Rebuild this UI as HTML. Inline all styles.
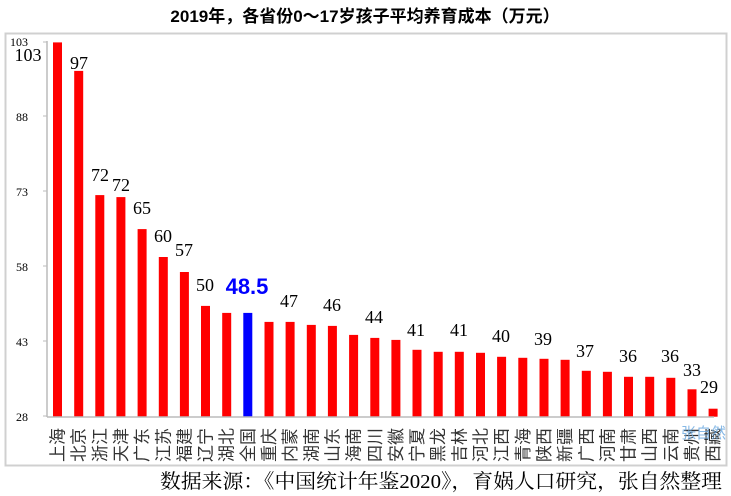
<!DOCTYPE html>
<html><head><meta charset="utf-8"><style>
body{margin:0;background:#fff;}
svg{display:block;}
</style></head><body>
<svg width="731" height="496" xmlns="http://www.w3.org/2000/svg">
<rect x="0" y="0" width="731" height="496" fill="#fff"/>
<text x="365" y="22" text-anchor="middle" font-family="Liberation Sans, Noto Sans CJK SC, sans-serif" font-weight="bold" font-size="17">2019年，各省份0～17岁孩子平均养育成本（万元）</text>
<rect x="5.5" y="33.5" width="721" height="432" fill="none" stroke="#d0d0d0" stroke-width="2"/>
<g font-family="Liberation Serif, serif" font-size="12" fill="#000" text-anchor="end">
<text x="28" y="46">103</text>
<text x="28" y="121">88</text>
<text x="28" y="196">73</text>
<text x="28" y="271">58</text>
<text x="28" y="346">43</text>
<text x="28" y="421">28</text>
</g>
<line x1="47" y1="41" x2="47" y2="417" stroke="#bbb" stroke-width="1.5"/>
<g stroke="#bbb" stroke-width="1"><line x1="43" y1="42" x2="47" y2="42"/><line x1="43" y1="116" x2="47" y2="116"/><line x1="43" y1="191" x2="47" y2="191"/><line x1="43" y1="266" x2="47" y2="266"/><line x1="43" y1="341" x2="47" y2="341"/><line x1="43" y1="416" x2="47" y2="416"/></g>
<g id="bars"></g>
<line x1="47" y1="417" x2="714" y2="417" stroke="#bbb" stroke-width="1.5"/>
<g font-family="Liberation Serif, serif" font-size="18" fill="#000" text-anchor="middle">
<text x="28" y="61">103</text>
<text x="79" y="69">97</text>
<text x="100" y="181">72</text>
<text x="121" y="191">72</text>
<text x="142" y="214">65</text>
<text x="163" y="242">60</text>
<text x="184" y="256">57</text>
<text x="205" y="291">50</text>
<text x="289" y="307">47</text>
<text x="332" y="311">46</text>
<text x="374" y="323">44</text>
<text x="416" y="336">41</text>
<text x="459" y="336">41</text>
<text x="501" y="342">40</text>
<text x="543" y="345">39</text>
<text x="585" y="357">37</text>
<text x="628" y="362">36</text>
<text x="670" y="362">36</text>
<text x="692" y="376">33</text>
<text x="709" y="393">29</text>
</g>
<text x="247" y="294" text-anchor="middle" font-family="Liberation Sans, sans-serif" font-weight="bold" font-size="22" fill="#0000ff">48.5</text>
<g id="cats" font-family="Liberation Sans, Noto Sans CJK SC, sans-serif" font-size="17" fill="#333"></g>
<text x="681" y="438" font-family="Liberation Sans, Noto Sans CJK SC, sans-serif" font-size="15" fill="#6aa8e0" opacity="0.8">张自然</text>
<text x="160" y="488" textLength="562" lengthAdjust="spacingAndGlyphs" font-family="Liberation Serif, Noto Serif CJK SC, serif" font-size="20" fill="#000">数据来源：《中国统计年鉴2020》，育娲人口研究，张自然整理</text>
<script>
var v=[103,97.3,72.4,72,65.6,60,57,50.2,48.8,48.8,47,47,46.4,46.2,44.4,43.8,43.4,41.4,41,41,40.8,40,39.8,39.6,39.4,37.2,37,36,36,35.8,33.5,29.6];
var n=["上海","北京","浙江","天津","广东","江苏","福建","辽宁","湖北","全国","重庆","内蒙","湖南","山东","海南","四川","安徽","宁夏","黑龙","吉林","河北","江西","青海","陕西","新疆","广西","河南","甘肃","山西","云南","贵州","西藏"];
var b=document.getElementById("bars"),c=document.getElementById("cats"),ns="http://www.w3.org/2000/svg";
for(var i=0;i<32;i++){var x=53+i*21.15,y=416.7-(v[i]-28)*4.99;
var r=document.createElementNS(ns,"rect");r.setAttribute("x",x.toFixed(1));r.setAttribute("y",y.toFixed(1));r.setAttribute("width","9");r.setAttribute("height",(416.7-y).toFixed(1));r.setAttribute("fill",i==9?"#0000ff":"#ff0000");b.appendChild(r);
var t=document.createElementNS(ns,"text");var cx=x+4.5;t.setAttribute("transform","translate("+(cx+6)+",462) rotate(-90)");t.textContent=n[i];c.appendChild(t);}
</script>
</svg>
</body></html>
